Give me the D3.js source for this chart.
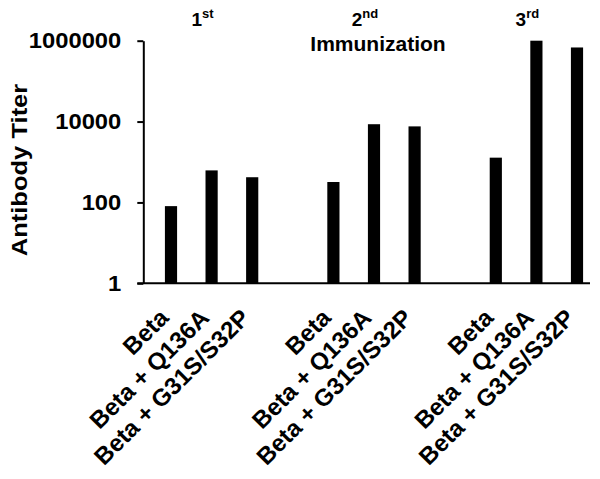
<!DOCTYPE html>
<html>
<head>
<meta charset="utf-8">
<script src="https://cdn.jsdelivr.net/npm/d3@7"></script>
<style>
  body { margin: 0; background: #fff; }
  text { font-family: "Liberation Sans", Arial, sans-serif; font-weight: bold; fill: #000; }
</style>
</head>
<body>
<div id="chart"></div>
<script>
// data
var groupNumbers = ["1", "2", "3"];
var groupSuffixes = ["st", "nd", "rd"];
var treatments = ["Beta", "Beta + Q136A", "Beta + G31S/S32P"];
var titer1st = [81, 620, 420];
var titer2nd = [320, 8600, 7600];
var titer3rd = [1280, 1000000, 680000];
var yTicks = [1, 100, 10000, 1000000];

var svgWidth = 600;
var svgHeight = 479;

var svg = d3.select("#chart")
  .append("svg")
  .attr("width", svgWidth)
  .attr("height", svgHeight);

// stretch text along its own direction, the original is a bit wide
function stretch(sel, f) {
  sel.each(function() {
    var len = this.getComputedTextLength();
    d3.select(this).attr("textLength", len * f).attr("lengthAdjust", "spacingAndGlyphs");
  });
}

// build slots: 3 bars per group, one empty slot between groups
var allTiters = [titer1st, titer2nd, titer3rd];
var rows = [];
var slots = [];
allTiters.forEach(function(vals, g) {
  vals.forEach(function(v, t) {
    var key = g + "-" + t;
    slots.push(key);
    rows.push({ key: key, group: g, label: treatments[t], value: v });
  });
  if (g < allTiters.length - 1) slots.push("gap" + g);
});

var axisX = 143.3;
var plotTop = 40.7;
var plotBottom = 283.3;

var x = d3.scaleBand()
  .domain(slots)
  .range([150.7, 597.3])
  .padding(0);

var y = d3.scaleLog()
  .domain([1, 1000000])
  .range([plotBottom, plotTop]);

var barWidth = x.bandwidth() * 0.3;

// bars
svg.selectAll("rect.bar")
  .data(rows)
  .enter()
  .append("rect")
  .attr("class", "bar")
  .attr("x", d => x(d.key) + x.bandwidth() / 2 - barWidth / 2)
  .attr("y", d => y(d.value))
  .attr("width", barWidth)
  .attr("height", d => plotBottom - y(d.value))
  .attr("fill", "#000");

// y axis
var leftAxis = d3.axisLeft(y)
  .tickValues(yTicks)
  .tickFormat(d3.format("d"))
  .tickSize(6)
  .tickSizeOuter(0)
  .tickPadding(16);

var yAxis = svg.append("g")
  .attr("transform", `translate(${axisX}, 0)`)
  .call(leftAxis);

yAxis.select(".domain").attr("stroke", "#000").attr("stroke-width", 2);
yAxis.selectAll(".tick line").attr("stroke", "#000").attr("stroke-width", 2);
yAxis.selectAll(".tick text")
  .style("font-size", "22px")
  .attr("fill", "#000")
  .call(stretch, 1.08);

// x axis
var bottomAxis = d3.axisBottom(x)
  .tickSize(0)
  .tickFormat(k => {
    var r = rows.find(d => d.key === k);
    return r ? r.label : "";
  });

var xAxis = svg.append("g")
  .attr("transform", `translate(0, ${plotBottom})`)
  .call(bottomAxis);

xAxis.select(".domain").remove();
xAxis.selectAll(".tick text")
  .style("font-size", "24px")
  .attr("fill", "#000")
  .attr("text-anchor", "end")
  .attr("x", 0)
  .attr("y", 0)
  .attr("dy", 0)
  .attr("transform", "translate(-1, 36) rotate(-45)")
  .call(stretch, 1.01);

svg.append("line")
  .attr("x1", axisX - 6)
  .attr("x2", 590)
  .attr("y1", plotBottom)
  .attr("y2", plotBottom)
  .attr("stroke", "#000")
  .attr("stroke-width", 2);

// y title
svg.append("text")
  .attr("transform", "translate(27, 170) rotate(-90)")
  .attr("text-anchor", "middle")
  .style("font-size", "22px")
  .text("Antibody Titer")
  .call(stretch, 1.16);

// immunization labels above each group
var ord = svg.selectAll("text.ord")
  .data(groupNumbers)
  .enter()
  .append("text")
  .attr("class", "ord")
  .attr("x", (d, i) => x(i + "-1") + x.bandwidth() / 2 - 9)
  .attr("y", 26)
  .attr("text-anchor", "middle")
  .style("font-size", "19px");

ord.append("tspan").text(d => d);
ord.append("tspan")
  .attr("dy", -8)
  .style("font-size", "13px")
  .text((d, i) => groupSuffixes[i]);

svg.append("text")
  .attr("x", x("1-1") + x.bandwidth() / 2 + 4)
  .attr("y", 51)
  .attr("text-anchor", "middle")
  .style("font-size", "20px")
  .text("Immunization")
  .call(stretch, 1.05);
</script>
</body>
</html>
